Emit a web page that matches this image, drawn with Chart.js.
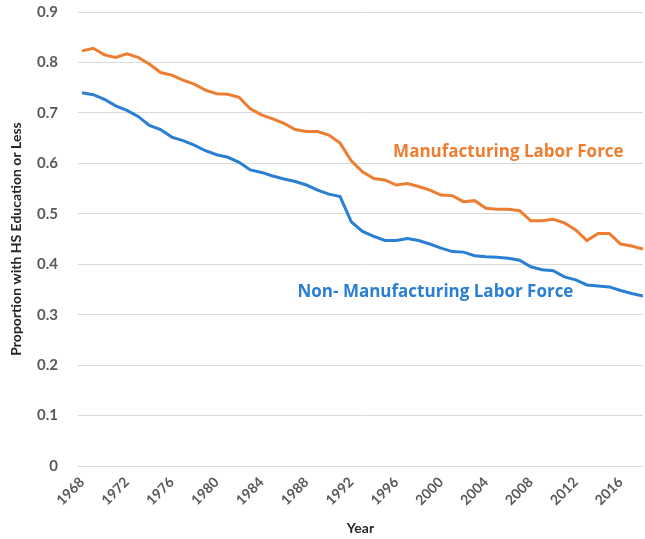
<!DOCTYPE html>
<html>
<head>
<meta charset="utf-8">
<script src="https://cdn.jsdelivr.net/npm/chart.js@4/dist/chart.umd.min.js"></script>
<style>
  html, body { margin: 0; padding: 0; background: #ffffff; }
  #wrap { width: 645px; height: 539px; position: relative; }
</style>
</head>
<body>
<div id="wrap"><canvas id="c"></canvas></div>
<script>
const years = [];
for (let y = 1968; y <= 2018; y++) years.push(y);

const manufacturing = [
  0.823, 0.828, 0.815, 0.810, 0.817, 0.810, 0.797, 0.780, 0.775, 0.765,
  0.757, 0.745, 0.738, 0.737, 0.731, 0.708, 0.696, 0.688, 0.679, 0.667,
  0.663, 0.663, 0.656, 0.640, 0.605, 0.583, 0.570, 0.567, 0.557, 0.560,
  0.554, 0.547, 0.537, 0.536, 0.524, 0.526, 0.511, 0.509, 0.509, 0.506,
  0.486, 0.486, 0.489, 0.482, 0.468, 0.447, 0.461, 0.461, 0.440, 0.436,
  0.430
];

const nonManufacturing = [
  0.740, 0.736, 0.727, 0.714, 0.705, 0.693, 0.675, 0.667, 0.652, 0.645,
  0.636, 0.625, 0.617, 0.612, 0.602, 0.587, 0.582, 0.575, 0.569, 0.564,
  0.557, 0.547, 0.539, 0.534, 0.484, 0.465, 0.455, 0.447, 0.447, 0.451,
  0.447, 0.440, 0.432, 0.425, 0.424, 0.417, 0.415, 0.414, 0.412, 0.408,
  0.395, 0.389, 0.387, 0.375, 0.369, 0.359, 0.357, 0.355, 0.348, 0.342,
  0.337
];

const yTicks = [0, 0.1, 0.2, 0.3, 0.4, 0.5, 0.6, 0.7, 0.8, 0.9];
const xTickYears = [1968, 1972, 1976, 1980, 1984, 1988, 1992, 1996, 2000, 2004, 2008, 2012, 2016];

const seriesNames = ['Manufacturing Labor Force', 'Non- Manufacturing Labor Force'];
const labelYears = [2006.0, 1999.5];
const labelValues = [0.6225, 0.3456];

const ORANGE = '#ED7D31';
const BLUE = '#2B7FD2';

const toPoints = (vals) => years.map((yr, i) => ({ x: yr, y: vals[i] }));

const seriesLabels = {
  id: 'seriesLabels',
  afterDatasetsDraw(chart) {
    const { ctx, scales } = chart;
    ctx.save();
    ctx.font = 'bold 17px "Open Sans"';
    ctx.textAlign = 'center';
    ctx.textBaseline = 'middle';
    const colors = [ORANGE, BLUE];
    seriesNames.forEach((name, i) => {
      ctx.fillStyle = colors[i];
      ctx.fillText(name, scales.x.getPixelForValue(labelYears[i]), scales.y.getPixelForValue(labelValues[i]));
    });
    ctx.restore();
  }
};

new Chart(document.getElementById('c'), {
  type: 'line',
  data: {
    datasets: [
      { label: seriesNames[0], data: toPoints(manufacturing), borderColor: ORANGE, borderWidth: 3, pointRadius: 0, tension: 0, fill: false },
      { label: seriesNames[1], data: toPoints(nonManufacturing), borderColor: BLUE, borderWidth: 3, pointRadius: 0, tension: 0, fill: false }
    ]
  },
  options: {
    responsive: true,
    maintainAspectRatio: false,
    animation: false,
    layout: { padding: { top: 12, right: 2, left: 0, bottom: 0 } },
    plugins: { legend: { display: false }, tooltip: { enabled: false } },
    scales: {
      x: {
        type: 'linear',
        min: 1967.64,
        max: 2018,
        afterBuildTicks(scale) { scale.ticks = xTickYears.map(v => ({ value: v })); },
        afterFit(scale) { scale.height = 73; scale.paddingLeft = 0; scale.paddingRight = 0; },
        grid: { display: false, drawTicks: false },
        border: { display: false },
        ticks: {
          minRotation: 45, maxRotation: 45, padding: 8, autoSkip: false,
          color: '#595959', font: { family: 'Lato', size: 14, weight: 'bold' },
          callback: (v) => String(v)
        },
        title: { display: true, text: 'Year', color: '#262626', font: { family: 'Lato', size: 14, weight: 'bold' }, padding: { top: 0, bottom: 2 } }
      },
      y: {
        min: 0, max: 0.9,
        afterBuildTicks(scale) { scale.ticks = yTicks.map(v => ({ value: v })); },
        afterFit(scale) { scale.width = 78; scale.paddingTop = 0; scale.paddingBottom = 0; },
        grid: { color: '#D9D9D9', lineWidth: 1, drawTicks: false },
        border: { display: false },
        ticks: {
          padding: 20, color: '#595959', font: { family: 'Lato', size: 15, weight: 'bold' },
          callback: (v) => v === 0 ? '0' : v.toFixed(1)
        },
        title: { display: true, text: 'Proportion with HS Education or Less', color: '#262626', font: { family: 'Lato', size: 14, weight: 'bold' }, padding: { top: 8, bottom: 0 } }
      }
    }
  },
  plugins: [seriesLabels]
});
</script>
</body>
</html>
